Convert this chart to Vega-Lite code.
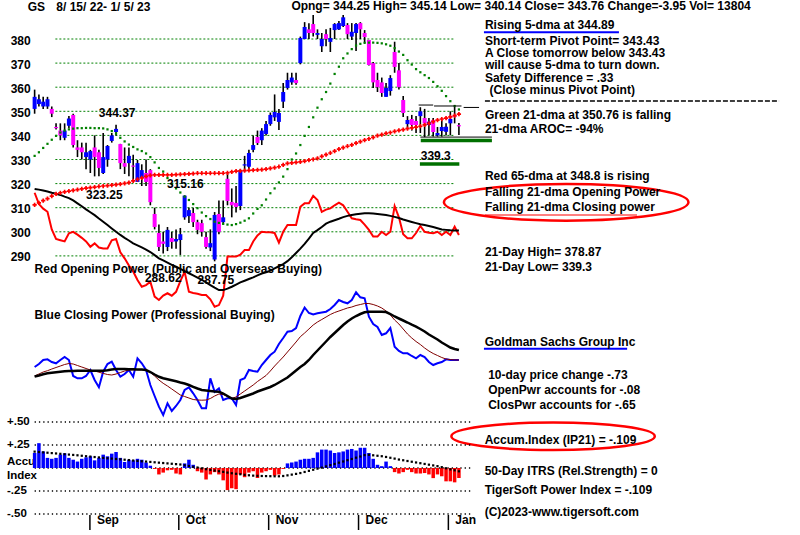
{
"$schema":"https://vega.github.io/schema/vega-lite/v6.json",
"width":800,"height":535,"padding":0,"autosize":{"type":"none"},
"background":"#ffffff",
"config":{"view":{"stroke":null},"text":{"font":"Liberation Sans","fontWeight":"bold","fontSize":12,"color":"#000000"}},
"datasets":{
"days":[
{"d":0,"o":351,"h":359,"l":349,"c":356,"ma21":331.5,"ma65":311.2,"op":316.2,"opma":317.8,"cp":13,"cpma":4,"cpma2":3.5,"ai":0.163,"aima":0.178},
{"d":1,"o":353,"h":357,"l":352,"c":355,"ma21":333,"ma65":312,"op":311.5,"opma":317.5,"cp":16,"cpma":6,"cpma2":4.5,"ai":0.27,"aima":0.174},
{"d":2,"o":352,"h":356,"l":351,"c":354,"ma21":334.8,"ma65":312.9,"op":309.6,"opma":317.1,"cp":20,"cpma":8,"cpma2":5.8,"ai":0.18,"aima":0.17},
{"d":3,"o":352,"h":356,"l":351,"c":355,"ma21":336.5,"ma65":313.8,"op":308.3,"opma":316.7,"cp":20.7,"cpma":9.3,"cpma2":6.7,"ai":0.11,"aima":0.166},
{"d":4,"o":351,"h":352,"l":347.6,"c":349,"ma21":338.2,"ma65":314.8,"op":301,"opma":316.2,"cp":18,"cpma":11,"cpma2":7.3,"ai":0.1,"aima":0.162},
{"d":5,"o":343.5,"h":345,"l":342.5,"c":343,"ma21":339.8,"ma65":315.7,"op":297,"opma":315.8,"cp":16.7,"cpma":12.5,"cpma2":7.8,"ai":0.11,"aima":0.158},
{"d":6,"o":342,"h":345,"l":338,"c":340,"ma21":341.2,"ma65":316.2,"op":296.5,"opma":315.3,"cp":20,"cpma":14,"cpma2":8.3,"ai":0.145,"aima":0.154},
{"d":7,"o":339,"h":345,"l":338,"c":342,"ma21":342,"ma65":316.6,"op":296,"opma":314.6,"cp":23,"cpma":15.5,"cpma2":8.7,"ai":0.16,"aima":0.15},
{"d":8,"o":344,"h":348,"l":343,"c":347,"ma21":342.5,"ma65":316.9,"op":299.4,"opma":314,"cp":20,"cpma":16.5,"cpma2":9,"ai":0.11,"aima":0.146},
{"d":9,"o":348.5,"h":349,"l":335,"c":336,"ma21":342.8,"ma65":317.2,"op":300,"opma":313,"cp":4,"cpma":16,"cpma2":9.1,"ai":0.09,"aima":0.142},
{"d":10,"o":335,"h":338,"l":331,"c":334,"ma21":343,"ma65":317.5,"op":298.8,"opma":311.8,"cp":1.7,"cpma":14.5,"cpma2":9.2,"ai":0.07,"aima":0.138},
{"d":11,"o":335,"h":337,"l":330,"c":333,"ma21":343,"ma65":317.8,"op":297.5,"opma":310.6,"cp":1.7,"cpma":13,"cpma2":9.2,"ai":0.1,"aima":0.133},
{"d":12,"o":331,"h":337,"l":326,"c":333,"ma21":343.1,"ma65":318.1,"op":296,"opma":309.3,"cp":4,"cpma":11.5,"cpma2":9.2,"ai":0.116,"aima":0.128},
{"d":13,"o":330,"h":334,"l":324.4,"c":333.5,"ma21":343.1,"ma65":318.3,"op":293.8,"opma":308.1,"cp":10,"cpma":10,"cpma2":9.3,"ai":0.127,"aima":0.124},
{"d":14,"o":335,"h":340,"l":323,"c":331,"ma21":343,"ma65":318.5,"op":295.2,"opma":306.9,"cp":0,"cpma":9,"cpma2":9.3,"ai":0.083,"aima":0.119},
{"d":15,"o":333,"h":334,"l":323,"c":326.5,"ma21":343,"ma65":318.8,"op":293.5,"opma":305.5,"cp":-7.3,"cpma":7.8,"cpma2":9.3,"ai":0.11,"aima":0.115},
{"d":16,"o":324.4,"h":341,"l":324,"c":331,"ma21":342.9,"ma65":319,"op":293.1,"opma":304.2,"cp":8.3,"cpma":6.6,"cpma2":9.3,"ai":0.145,"aima":0.11},
{"d":17,"o":330,"h":336,"l":327,"c":335.6,"ma21":342.5,"ma65":319.2,"op":293.1,"opma":302.8,"cp":16,"cpma":5.5,"cpma2":9.8,"ai":0.127,"aima":0.106},
{"d":18,"o":337.7,"h":341,"l":337,"c":340,"ma21":341.8,"ma65":319.4,"op":296.5,"opma":301.4,"cp":18.3,"cpma":5,"cpma2":10.5,"ai":0.156,"aima":0.102},
{"d":19,"o":341.4,"h":344.37,"l":340,"c":342.7,"ma21":340.8,"ma65":319.6,"op":297,"opma":300,"cp":10,"cpma":6,"cpma2":11,"ai":0.174,"aima":0.098},
{"d":20,"o":336.4,"h":336.5,"l":326,"c":328.5,"ma21":339,"ma65":319.8,"op":291.5,"opma":298.7,"cp":3.3,"cpma":7.5,"cpma2":11,"ai":0.11,"aima":0.094},
{"d":21,"o":328.5,"h":335,"l":324,"c":327,"ma21":337.5,"ma65":320.1,"op":289,"opma":297.5,"cp":6,"cpma":9,"cpma2":11,"ai":0.065,"aima":0.09},
{"d":22,"o":328.5,"h":335,"l":323,"c":331.5,"ma21":336.2,"ma65":320.4,"op":286,"opma":296.4,"cp":10,"cpma":10,"cpma2":10.8,"ai":0.09,"aima":0.086},
{"d":23,"o":327.5,"h":332,"l":321,"c":327,"ma21":335.2,"ma65":321.1,"op":283.5,"opma":295.2,"cp":3.3,"cpma":10.2,"cpma2":10.7,"ai":0.083,"aima":0.081},
{"d":24,"o":320.7,"h":329.8,"l":320.7,"c":328.5,"ma21":334.2,"ma65":321.8,"op":280,"opma":294.4,"cp":21.7,"cpma":10.3,"cpma2":10.6,"ai":0.1,"aima":0.077},
{"d":25,"o":322.3,"h":328,"l":319,"c":325.6,"ma21":333.5,"ma65":322.4,"op":277.2,"opma":293.5,"cp":16.7,"cpma":10.2,"cpma2":10.4,"ai":0.09,"aima":0.073},
{"d":26,"o":324.4,"h":330,"l":319,"c":320.7,"ma21":332.5,"ma65":323,"op":277.9,"opma":292.6,"cp":10,"cpma":10,"cpma2":10,"ai":0.06,"aima":0.07},
{"d":27,"o":325.6,"h":326,"l":311,"c":312.3,"ma21":331,"ma65":323.4,"op":279.3,"opma":291.6,"cp":-5,"cpma":7.5,"cpma2":8,"ai":0.025,"aima":0.066},
{"d":28,"o":307.4,"h":310,"l":301,"c":302,"ma21":328.8,"ma65":323.6,"op":273.1,"opma":290.3,"cp":-16,"cpma":4,"cpma2":5.5,"ai":-0.01,"aima":0.062},
{"d":29,"o":299.5,"h":303,"l":292,"c":293.7,"ma21":326.5,"ma65":323.6,"op":271.7,"opma":289,"cp":-26.7,"cpma":0,"cpma2":3.2,"ai":-0.07,"aima":0.058},
{"d":30,"o":296,"h":300,"l":291,"c":295,"ma21":325,"ma65":323.6,"op":273.5,"opma":288.1,"cp":-35,"cpma":-3.3,"cpma2":1.7,"ai":-0.05,"aima":0.054},
{"d":31,"o":293.7,"h":302,"l":292,"c":300.8,"ma21":322.3,"ma65":323.6,"op":274.5,"opma":287.2,"cp":-23.3,"cpma":-6,"cpma2":0.8,"ai":-0.025,"aima":0.05},
{"d":32,"o":297.4,"h":300,"l":293,"c":295.8,"ma21":319.8,"ma65":323.6,"op":273.5,"opma":286.3,"cp":-31,"cpma":-9,"cpma2":-0.2,"ai":-0.02,"aima":0.046},
{"d":33,"o":296,"h":301,"l":293,"c":297,"ma21":318,"ma65":323.7,"op":275.1,"opma":285.5,"cp":-26,"cpma":-12,"cpma2":-1.3,"ai":-0.06,"aima":0.042},
{"d":34,"o":296.6,"h":301.6,"l":290.4,"c":299,"ma21":316.3,"ma65":323.8,"op":279.5,"opma":284.6,"cp":-20,"cpma":-15,"cpma2":-2.5,"ai":-0.07,"aima":0.038},
{"d":35,"o":306,"h":315.16,"l":305,"c":315,"ma21":314.6,"ma65":323.9,"op":283.4,"opma":283.7,"cp":-10,"cpma":-16.5,"cpma2":-3.5,"ai":0.05,"aima":0.03},
{"d":36,"o":306.5,"h":310,"l":303.6,"c":309,"ma21":313.2,"ma65":324,"op":275.1,"opma":282.8,"cp":-7.3,"cpma":-18,"cpma2":-5,"ai":0.09,"aima":0.022},
{"d":37,"o":307.8,"h":310,"l":302,"c":304,"ma21":311.5,"ma65":324.1,"op":274.6,"opma":281.9,"cp":-13.3,"cpma":-19.5,"cpma2":-6.8,"ai":0.035,"aima":0.013},
{"d":38,"o":304,"h":305,"l":299,"c":300.8,"ma21":309.8,"ma65":324.3,"op":274.3,"opma":281,"cp":-20,"cpma":-20,"cpma2":-8.5,"ai":-0.035,"aima":0.005},
{"d":39,"o":303.6,"h":305,"l":298,"c":300,"ma21":308,"ma65":324.3,"op":273.8,"opma":280.1,"cp":-28.3,"cpma":-20.2,"cpma2":-10,"ai":-0.05,"aima":-0.004},
{"d":40,"o":297.8,"h":300,"l":293,"c":293.7,"ma21":306.5,"ma65":324.3,"op":273.8,"opma":279,"cp":-28.3,"cpma":-20,"cpma2":-10.5,"ai":-0.125,"aima":-0.013},
{"d":41,"o":293.5,"h":301,"l":292,"c":295.3,"ma21":305.3,"ma65":324.3,"op":272,"opma":277.9,"cp":1.7,"cpma":-18.5,"cpma2":-11,"ai":-0.07,"aima":-0.021},
{"d":42,"o":288.5,"h":308.2,"l":287.75,"c":307,"ma21":304.2,"ma65":324.3,"op":268.9,"opma":276.8,"cp":-11.7,"cpma":-16,"cpma2":-11.5,"ai":-0.045,"aima":-0.028},
{"d":43,"o":307.4,"h":313,"l":299,"c":300,"ma21":303.7,"ma65":324.3,"op":269.6,"opma":275.8,"cp":-8.3,"cpma":-14,"cpma2":-11.7,"ai":-0.07,"aima":-0.035},
{"d":44,"o":304,"h":313,"l":303,"c":306,"ma21":303.3,"ma65":324.3,"op":273.5,"opma":275.8,"cp":-20,"cpma":-14.5,"cpma2":-13.5,"ai":-0.134,"aima":-0.042},
{"d":45,"o":322,"h":324.5,"l":311,"c":312.8,"ma21":303,"ma65":324.5,"op":289.7,"opma":276.4,"cp":-18.3,"cpma":-16.5,"cpma2":-16,"ai":-0.24,"aima":-0.05},
{"d":46,"o":312.4,"h":318,"l":306,"c":311,"ma21":302.8,"ma65":324.9,"op":289.7,"opma":277.2,"cp":-18.3,"cpma":-18.3,"cpma2":-18.5,"ai":-0.22,"aima":-0.057},
{"d":47,"o":312,"h":319,"l":308,"c":310.3,"ma21":303.2,"ma65":325.2,"op":289.7,"opma":278.1,"cp":-25,"cpma":-17,"cpma2":-19,"ai":-0.23,"aima":-0.063},
{"d":48,"o":310.7,"h":326,"l":309,"c":325.6,"ma21":303.8,"ma65":325.3,"op":290.5,"opma":279,"cp":0,"cpma":-14,"cpma2":-18,"ai":-0.07,"aima":-0.068},
{"d":49,"o":327.5,"h":331.5,"l":325,"c":328,"ma21":304.6,"ma65":325.4,"op":292.4,"opma":279.7,"cp":1.7,"cpma":-11,"cpma2":-16.5,"ai":-0.1,"aima":-0.074},
{"d":50,"o":327,"h":334,"l":326,"c":332.7,"ma21":305.6,"ma65":325.5,"op":292.4,"opma":280.4,"cp":10,"cpma":-8,"cpma2":-15,"ai":-0.05,"aima":-0.079},
{"d":51,"o":334,"h":340,"l":333,"c":336,"ma21":307.6,"ma65":325.6,"op":296,"opma":281.1,"cp":9,"cpma":-5,"cpma2":-13.5,"ai":-0.035,"aima":-0.083},
{"d":52,"o":339.3,"h":342,"l":336,"c":336.8,"ma21":309.5,"ma65":325.7,"op":298.5,"opma":281.9,"cp":8.3,"cpma":-1.5,"cpma2":-11.5,"ai":-0.11,"aima":-0.085},
{"d":53,"o":338,"h":343,"l":336,"c":342,"ma21":311,"ma65":325.8,"op":300,"opma":282.7,"cp":15,"cpma":1.5,"cpma2":-10,"ai":-0.05,"aima":-0.087},
{"d":54,"o":340.6,"h":346,"l":340,"c":344.7,"ma21":313.4,"ma65":326,"op":299.8,"opma":283.2,"cp":20,"cpma":4.5,"cpma2":-8.5,"ai":-0.035,"aima":-0.088},
{"d":55,"o":344.7,"h":349.5,"l":344,"c":348.5,"ma21":316,"ma65":326.3,"op":299.8,"opma":283.9,"cp":25,"cpma":9,"cpma2":-7,"ai":-0.02,"aima":-0.089},
{"d":56,"o":347.5,"h":357,"l":346,"c":349.7,"ma21":318,"ma65":326.6,"op":299.5,"opma":284.8,"cp":28.3,"cpma":14,"cpma2":-5,"ai":-0.083,"aima":-0.09},
{"d":57,"o":345.6,"h":351,"l":342.2,"c":349.3,"ma21":320.5,"ma65":327,"op":295.5,"opma":285.7,"cp":36,"cpma":18.5,"cpma2":-2.5,"ai":-0.07,"aima":-0.09},
{"d":58,"o":354,"h":361.7,"l":351.4,"c":358,"ma21":322.9,"ma65":327.8,"op":300,"opma":286.6,"cp":42,"cpma":23,"cpma2":0,"ai":-0.01,"aima":-0.087},
{"d":59,"o":359.7,"h":366,"l":359,"c":363,"ma21":326,"ma65":328.4,"op":302.8,"opma":287.8,"cp":48.3,"cpma":28,"cpma2":2.5,"ai":0.05,"aima":-0.08},
{"d":60,"o":362,"h":366,"l":361,"c":364,"ma21":330,"ma65":328.6,"op":302.8,"opma":289.4,"cp":49,"cpma":33,"cpma2":6,"ai":0.06,"aima":-0.072},
{"d":61,"o":363,"h":366,"l":361,"c":361.7,"ma21":332.5,"ma65":328.8,"op":302.8,"opma":291.2,"cp":52,"cpma":38,"cpma2":9.5,"ai":0.07,"aima":-0.064},
{"d":62,"o":370,"h":381,"l":369.5,"c":380.4,"ma21":336,"ma65":329,"op":310.4,"opma":293,"cp":64,"cpma":43.3,"cpma2":13,"ai":0.09,"aima":-0.055},
{"d":63,"o":380,"h":387,"l":380,"c":385,"ma21":339.8,"ma65":329.3,"op":311.8,"opma":295,"cp":72.5,"cpma":47,"cpma2":16,"ai":0.1,"aima":-0.043},
{"d":64,"o":384,"h":386.5,"l":380,"c":382.5,"ma21":343.5,"ma65":329.7,"op":311.8,"opma":297.2,"cp":67,"cpma":51,"cpma2":20,"ai":0.1,"aima":-0.031},
{"d":65,"o":386.2,"h":390,"l":381,"c":382.5,"ma21":347.5,"ma65":330.1,"op":314.9,"opma":299.5,"cp":65.5,"cpma":55,"cpma2":25,"ai":0.11,"aima":-0.019},
{"d":66,"o":381.7,"h":384,"l":380,"c":382.5,"ma21":351.5,"ma65":330.5,"op":313.2,"opma":300.7,"cp":66.7,"cpma":58,"cpma2":29.5,"ai":0.17,"aima":-0.007},
{"d":67,"o":377,"h":382.5,"l":374.6,"c":380,"ma21":355,"ma65":331.3,"op":308.3,"opma":302,"cp":67.5,"cpma":60.5,"cpma2":34,"ai":0.2,"aima":0.004},
{"d":68,"o":382,"h":384,"l":377,"c":380,"ma21":358,"ma65":332,"op":309.2,"opma":303.4,"cp":68.3,"cpma":63,"cpma2":38.5,"ai":0.2,"aima":0.017},
{"d":69,"o":378.8,"h":384.6,"l":374.6,"c":380.4,"ma21":361.5,"ma65":332.7,"op":309.7,"opma":304.2,"cp":71,"cpma":65.5,"cpma2":43,"ai":0.19,"aima":0.031},
{"d":70,"o":383.7,"h":386.6,"l":380,"c":386.2,"ma21":365.5,"ma65":333.5,"op":311,"opma":304.8,"cp":75,"cpma":67.5,"cpma2":47,"ai":0.163,"aima":0.044},
{"d":71,"o":384,"h":387.5,"l":383.7,"c":386.6,"ma21":368.5,"ma65":334.3,"op":312.1,"opma":305.4,"cp":80,"cpma":69,"cpma2":51,"ai":0.17,"aima":0.058},
{"d":72,"o":385.4,"h":390,"l":385,"c":389,"ma21":372,"ma65":334.9,"op":311,"opma":306.1,"cp":78,"cpma":70.5,"cpma2":55,"ai":0.18,"aima":0.071},
{"d":73,"o":385.8,"h":386.6,"l":380,"c":382,"ma21":374,"ma65":335.5,"op":308.3,"opma":306.6,"cp":76.7,"cpma":72,"cpma2":58.5,"ai":0.2,"aima":0.085},
{"d":74,"o":381,"h":386.6,"l":379.6,"c":383,"ma21":375.8,"ma65":336.1,"op":305.6,"opma":307,"cp":80,"cpma":73,"cpma2":61.5,"ai":0.207,"aima":0.098},
{"d":75,"o":382.5,"h":386.6,"l":375,"c":386.2,"ma21":377.3,"ma65":336.8,"op":305.2,"opma":307.3,"cp":87.7,"cpma":74.5,"cpma2":64,"ai":0.19,"aima":0.112},
{"d":76,"o":386.6,"h":387,"l":380,"c":384,"ma21":378,"ma65":337.4,"op":304.9,"opma":307.5,"cp":82.7,"cpma":75.5,"cpma2":66,"ai":0.22,"aima":0.125},
{"d":77,"o":382.5,"h":383.7,"l":378.3,"c":380.8,"ma21":378.4,"ma65":338,"op":303,"opma":307.7,"cp":81.7,"cpma":76.5,"cpma2":67.7,"ai":0.22,"aima":0.14},
{"d":78,"o":379.6,"h":379.6,"l":369,"c":369.2,"ma21":378.5,"ma65":338.6,"op":300.8,"opma":307.7,"cp":63.3,"cpma":76.5,"cpma2":68.3,"ai":0.163,"aima":0.143},
{"d":79,"o":370,"h":370.5,"l":359.7,"c":362,"ma21":378.5,"ma65":339.2,"op":298,"opma":307.6,"cp":56,"cpma":75.5,"cpma2":68.3,"ai":0.1,"aima":0.138},
{"d":80,"o":363,"h":366,"l":358,"c":360,"ma21":378.4,"ma65":339.9,"op":298,"opma":307.4,"cp":53,"cpma":74,"cpma2":68.3,"ai":0.035,"aima":0.133},
{"d":81,"o":362,"h":364,"l":356,"c":357.6,"ma21":378.2,"ma65":340.3,"op":300,"opma":307.2,"cp":45,"cpma":72,"cpma2":68.3,"ai":0.02,"aima":0.128},
{"d":82,"o":356,"h":361.7,"l":356,"c":359.7,"ma21":377.8,"ma65":340.8,"op":298.7,"opma":307,"cp":46.7,"cpma":69,"cpma2":68,"ai":0.07,"aima":0.12},
{"d":83,"o":358.4,"h":365,"l":356.5,"c":363.8,"ma21":377.2,"ma65":341.2,"op":300,"opma":306.6,"cp":52,"cpma":65,"cpma2":66,"ai":0.02,"aima":0.111},
{"d":84,"o":374.6,"h":378.87,"l":366,"c":368.4,"ma21":376.2,"ma65":341.7,"op":310.7,"opma":306.2,"cp":33.3,"cpma":60,"cpma2":63.5,"ai":-0.045,"aima":0.102},
{"d":85,"o":367,"h":370,"l":359,"c":360,"ma21":374.8,"ma65":342.1,"op":306,"opma":305.7,"cp":29,"cpma":56,"cpma2":61.5,"ai":-0.06,"aima":0.092},
{"d":86,"o":354.7,"h":356.3,"l":347.6,"c":349.3,"ma21":373.4,"ma65":342.4,"op":299,"opma":305.1,"cp":26.7,"cpma":51,"cpma2":59.5,"ai":-0.045,"aima":0.084},
{"d":87,"o":344.7,"h":348,"l":343,"c":346.4,"ma21":371.2,"ma65":342.8,"op":297.3,"opma":304.6,"cp":26.7,"cpma":46,"cpma2":57.5,"ai":-0.02,"aima":0.076},
{"d":88,"o":346.8,"h":348.5,"l":342,"c":344.3,"ma21":369.4,"ma65":343.1,"op":297.3,"opma":304.1,"cp":24,"cpma":42,"cpma2":55.3,"ai":-0.045,"aima":0.068},
{"d":89,"o":346,"h":348,"l":341,"c":344.3,"ma21":367.5,"ma65":343.4,"op":299.5,"opma":303.6,"cp":21.7,"cpma":38.5,"cpma2":53.3,"ai":-0.06,"aima":0.06},
{"d":90,"o":348,"h":351.7,"l":341,"c":350,"ma21":366.2,"ma65":343.8,"op":302.4,"opma":303.1,"cp":25,"cpma":35.5,"cpma2":51,"ai":-0.06,"aima":0.052},
{"d":91,"o":347.2,"h":351,"l":339.3,"c":345,"ma21":365,"ma65":344.4,"op":300,"opma":302.8,"cp":23,"cpma":32,"cpma2":48.5,"ai":-0.055,"aima":0.044},
{"d":92,"o":344.3,"h":347.2,"l":340,"c":345.7,"ma21":363.8,"ma65":345,"op":299.6,"opma":302.4,"cp":18,"cpma":29,"cpma2":45.5,"ai":-0.07,"aima":0.036},
{"d":93,"o":346.4,"h":347.2,"l":339.5,"c":341.4,"ma21":362.2,"ma65":345.7,"op":299.4,"opma":302,"cp":15,"cpma":26.5,"cpma2":43,"ai":-0.11,"aima":0.028},
{"d":94,"o":340,"h":343.5,"l":339.5,"c":341,"ma21":360.4,"ma65":346.3,"op":300,"opma":301.5,"cp":16.7,"cpma":24.5,"cpma2":40.5,"ai":-0.07,"aima":0.02},
{"d":95,"o":341.8,"h":346.4,"l":339.5,"c":343.5,"ma21":358.5,"ma65":346.8,"op":298.7,"opma":301,"cp":18,"cpma":22.5,"cpma2":37.5,"ai":-0.09,"aima":0.009},
{"d":96,"o":341.5,"h":345,"l":340,"c":343.6,"ma21":356.3,"ma65":347.2,"op":300,"opma":300.8,"cp":20.7,"cpma":21,"cpma2":35,"ai":-0.145,"aima":-0.003},
{"d":97,"o":345,"h":350,"l":340,"c":346.8,"ma21":354.2,"ma65":347.7,"op":298.7,"opma":300.6,"cp":20,"cpma":20.4,"cpma2":32.5,"ai":-0.145,"aima":-0.015},
{"d":98,"o":348,"h":351.8,"l":345,"c":347.71,"ma21":352.2,"ma65":348.2,"op":302.1,"opma":300.5,"cp":20,"cpma":20.1,"cpma2":31,"ai":-0.156,"aima":-0.025},
{"d":99,"o":344.25,"h":345.14,"l":340.14,"c":343.76,"ma21":350.76,"ma65":348.8,"op":298.7,"opma":300.5,"cp":20,"cpma":20,"cpma2":30,"ai":-0.109,"aima":-0.036}
],
"notes":[
{"d":14.977,"v":349.5,"t":"344.37"},
{"d":11.982,"v":315.39,"t":"323.25"},
{"d":30.876,"v":319.92,"t":"315.16"},
{"d":25.737,"v":280.83,"t":"288.62"},
{"d":38.018,"v":280.0,"t":"287.75"},
{"d":90.092,"v":331.58,"t":"339.3"},
{"d":0,"v":284.77,"t":"Red Opening Power (Public and Overseas Buying)"},
{"d":0,"v":265.68,"t":"Blue Closing Power (Professional Buying)"},
{"d":105.07,"v":385.81,"t":"Rising 5-dma at 344.89"},
{"d":105.07,"v":379.17,"t":"Short-term Pivot Point= 343.43"},
{"d":105.07,"v":374.19,"t":"A Close tomorrow below  343.43"},
{"d":105.07,"v":369.09,"t":"will cause 5-dma to turn down."},
{"d":105.07,"v":363.94,"t":"Safety Difference = .33"},
{"d":106.15,"v":358.84,"t":"(Close minus Pivot Point)"},
{"d":105.07,"v":348.55,"t":"Green 21-dma at  350.76 is falling"},
{"d":105.07,"v":342.66,"t":"21-dma AROC= -94%"},
{"d":105.07,"v":323.24,"t":"Red 65-dma at  348.8 is rising"},
{"d":105.07,"v":316.51,"t":"Falling 21-dma Opening Power"},
{"d":105.07,"v":310.29,"t":"Falling 21-dma Closing power"},
{"d":105.07,"v":291.62,"t":"21-Day High= 378.87"},
{"d":105.07,"v":285.6,"t":"21-Day Low= 339.3"},
{"d":105.0,"v":254.48,"t":"Goldman Sachs Group Inc"},
{"d":105.83,"v":240.71,"t":"10-day price change -.73"},
{"d":105.83,"v":234.36,"t":"OpenPwr accounts for -.08"},
{"d":105.83,"v":227.93,"t":"ClosPwr accounts for -.65"},
{"d":105.0,"v":213.61,"t":"Accum.Index (IP21) = -.109"},
{"d":105.0,"v":200.54,"t":"50-Day ITRS (Rel.Strength) =  0"},
{"d":105.0,"v":192.86,"t":"TigerSoft Power Index = -.109"},
{"d":105.0,"v":183.73,"t":"(C)2023-www.tigersoft.com"}
]
},
"resolve":{"scale":{"y":"independent"}},
"layer":[
{"layer":[
{"data":{"values":[{"v":290},{"v":300},{"v":310},{"v":320},{"v":330},{"v":340},{"v":350},{"v":360},{"v":370},{"v":380}]},
 "mark":{"type":"rule","color":"#008000","strokeWidth":1,"strokeDash":[2,2]},
 "encoding":{"y":{"field":"v","type":"quantitative","scale":{"domain":[174.191,396.183],"nice":false,"zero":false},"axis":null},
  "x":{"datum":4.84,"type":"quantitative","scale":{"domain":[-6.912,177.419],"nice":false,"zero":false},"axis":null},"x2":{"datum":97.9}}},
{"data":{"values":[{"v":290},{"v":300},{"v":310},{"v":320},{"v":330},{"v":340},{"v":350},{"v":360},{"v":370},{"v":380}]},
 "mark":{"type":"text","align":"right","baseline":"middle","dy":1.5},
 "encoding":{"y":{"field":"v","type":"quantitative"},"x":{"datum":-0.92,"type":"quantitative"},"text":{"field":"v","type":"quantitative"}}},
{"data":{"name":"days"},"mark":{"type":"line","color":"#ff0000","strokeWidth":2},
 "encoding":{"x":{"field":"d","type":"quantitative"},"y":{"field":"op","type":"quantitative"}}},
{"data":{"name":"days"},"mark":{"type":"line","color":"#000000","strokeWidth":2},
 "encoding":{"x":{"field":"d","type":"quantitative"},"y":{"field":"opma","type":"quantitative"}}},
{"data":{"name":"days"},"mark":{"type":"rule","color":"#000000","strokeWidth":1.6},
 "encoding":{"x":{"field":"d","type":"quantitative"},"y":{"field":"l","type":"quantitative"},"y2":{"field":"h"}}},
{"data":{"name":"days"},"mark":{"type":"bar","width":4},
 "encoding":{"x":{"field":"d","type":"quantitative"},"y":{"field":"o","type":"quantitative"},"y2":{"field":"c"},
  "color":{"condition":{"test":"datum.c >= datum.o","value":"#0000ff"},"value":"#ff00ff"}}},
{"data":{"name":"days"},"mark":{"type":"point","shape":"cross","filled":true,"size":18,"color":"#ff0000","opacity":1},
 "encoding":{"x":{"field":"d","type":"quantitative"},"y":{"field":"ma65","type":"quantitative"}}},
{"data":{"name":"days"},"mark":{"type":"point","shape":"square","filled":true,"size":5,"color":"#008000","opacity":1},
 "encoding":{"x":{"field":"d","type":"quantitative"},"y":{"field":"ma21","type":"quantitative"}}},
{"data":{"values":[{"d":90.1,"d2":106.7,"v":337.9},{"d":89.9,"d2":99.1,"v":328.1}]},
 "mark":{"type":"rule","color":"#007000","strokeWidth":3.5},
 "encoding":{"x":{"field":"d","type":"quantitative"},"x2":{"field":"d2"},"y":{"field":"v","type":"quantitative"}}},
{"data":{"values":[{"d":89.6,"d2":93,"v":352.6},{"d":93.2,"d2":99.6,"v":352.2},{"d":100.1,"d2":103.7,"v":351.6},{"d":90,"d2":106.7,"v":339.3}]},
 "mark":{"type":"rule","color":"#000000","strokeWidth":1},
 "encoding":{"x":{"field":"d","type":"quantitative"},"x2":{"field":"d2"},"y":{"field":"v","type":"quantitative"}}},
{"data":{"values":[{"d":104.84,"d2":136.34,"v":382.78},{"d":104.84,"d2":138.25,"v":251.49}]},
 "mark":{"type":"rule","color":"#0000ff","strokeWidth":2},
 "encoding":{"x":{"field":"d","type":"quantitative"},"x2":{"field":"d2"},"y":{"field":"v","type":"quantitative"}}},
{"data":{"values":[{"d":105.07,"d2":140.55,"v":306.97}]},
 "mark":{"type":"rule","color":"#ff0000","strokeWidth":1},
 "encoding":{"x":{"field":"d","type":"quantitative"},"x2":{"field":"d2"},"y":{"field":"v","type":"quantitative"}}},
{"data":{"values":[{"d":105.07,"d2":173.7,"v":354.27}]},
 "mark":{"type":"rule","color":"#000000","strokeWidth":1.5,"strokeDash":[5,2]},
 "encoding":{"x":{"field":"d","type":"quantitative"},"x2":{"field":"d2"},"y":{"field":"v","type":"quantitative"}}},
{"data":{"values":[{"d":124.03,"v":312.24}]},
 "mark":{"type":"point","shape":"M1,0C1,0.0828,0.5523,0.15,0,0.15C-0.5523,0.15,-1,0.0828,-1,0C-1,-0.0828,-0.5523,-0.15,0,-0.15C0.5523,-0.15,1,-0.0828,1,0Z","size":59829,"filled":false,"stroke":"#ff0000","strokeWidth":2.5,"opacity":1},
 "encoding":{"x":{"field":"d","type":"quantitative"},"y":{"field":"v","type":"quantitative"}}},
{"data":{"values":[{"d":120.97,"v":215.15}]},
 "mark":{"type":"point","shape":"M1,0C1,0.0746,0.5523,0.135,0,0.135C-0.5523,0.135,-1,0.0746,-1,0C-1,-0.0746,-0.5523,-0.135,0,-0.135C0.5523,-0.135,1,-0.0746,1,0Z","size":41372,"filled":false,"stroke":"#ff0000","strokeWidth":2.5,"opacity":1},
 "encoding":{"x":{"field":"d","type":"quantitative"},"y":{"field":"v","type":"quantitative"}}},
{"data":{"name":"notes"},"mark":{"type":"text","align":"left","baseline":"middle"},
 "encoding":{"x":{"field":"d","type":"quantitative"},"y":{"field":"v","type":"quantitative"},"text":{"field":"t"}}},
{"data":{"values":[{"d":-1.613,"v":393.4,"t":"GS"},{"d":5.069,"v":393.4,"t":"8/ 15/ 22- 1/ 5/ 23"},{"d":59.908,"v":393.49,"t":"Opng= 344.25 High= 345.14 Low= 340.14 Close= 343.76 Change=-3.95 Vol= 13804"}]},
 "mark":{"type":"text","align":"left","baseline":"middle","fontSize":12},
 "encoding":{"x":{"field":"d","type":"quantitative"},"y":{"field":"v","type":"quantitative"},"text":{"field":"t"}}}
]},
{"layer":[
{"data":{"name":"days"},"mark":{"type":"line","color":"#0000ff","strokeWidth":2},
 "encoding":{"x":{"field":"d","type":"quantitative"},"y":{"field":"cp","type":"quantitative","scale":{"domain":[-155,380],"nice":false,"zero":false},"axis":null}}},
{"data":{"name":"days"},"mark":{"type":"line","color":"#800000","strokeWidth":1},
 "encoding":{"x":{"field":"d","type":"quantitative"},"y":{"field":"cpma","type":"quantitative"}}},
{"data":{"name":"days"},"mark":{"type":"line","color":"#000000","strokeWidth":2.5},
 "encoding":{"x":{"field":"d","type":"quantitative"},"y":{"field":"cpma2","type":"quantitative"}}}
]},
{"layer":[
{"data":{"values":[{"v":0.5},{"v":0.25},{"v":0},{"v":-0.25},{"v":-0.5}]},
 "mark":{"type":"rule","color":"#000000","strokeWidth":1.3,"strokeDash":[1.3,3]},
 "encoding":{"y":{"field":"v","type":"quantitative","scale":{"domain":[-0.7283,5.087],"nice":false,"zero":false},"axis":null},
  "x":{"datum":0,"type":"quantitative"},"x2":{"datum":101.8}}},
{"data":{"values":[{"v":0.5,"t":"+.50"},{"v":0.25,"t":"+.25"},{"v":0.062,"t":"Accu"},{"v":-0.085,"t":"Index"},{"v":-0.25,"t":"-.25"},{"v":-0.5,"t":"-.50"}]},
 "mark":{"type":"text","align":"left","baseline":"middle","fontSize":11.5},
 "encoding":{"y":{"field":"v","type":"quantitative"},"x":{"datum":-6.45,"type":"quantitative"},"text":{"field":"t"}}},
{"data":{"name":"days"},"mark":{"type":"bar","width":3.5},
 "encoding":{"x":{"field":"d","type":"quantitative"},"y":{"field":"ai","type":"quantitative"},"y2":{"datum":0},
  "color":{"condition":{"test":"datum.ai >= 0","value":"#0000ff"},"value":"#ff0000"}}},
{"data":{"name":"days"},"mark":{"type":"point","shape":"square","filled":true,"size":5,"color":"#000000","opacity":1},
 "encoding":{"x":{"field":"d","type":"quantitative"},"y":{"field":"aima","type":"quantitative"}}},
{"data":{"values":[{"d":12.9,"m":"Sep"},{"d":33.64,"m":"Oct"},{"d":54.61,"m":"Nov"},{"d":75.58,"m":"Dec"},{"d":96.54,"m":"Jan"}]},
 "mark":{"type":"rule","color":"#000000","strokeWidth":1.5},
 "encoding":{"x":{"field":"d","type":"quantitative"},"y":{"datum":-0.511,"type":"quantitative"},"y2":{"datum":-0.674}}},
{"data":{"values":[{"d":12.9,"m":"Sep"},{"d":33.64,"m":"Oct"},{"d":54.61,"m":"Nov"},{"d":75.58,"m":"Dec"},{"d":96.54,"m":"Jan"}]},
 "mark":{"type":"text","align":"left","baseline":"middle","dx":7},
 "encoding":{"x":{"field":"d","type":"quantitative"},"y":{"datum":-0.565,"type":"quantitative"},"text":{"field":"m"}}}
]}
]
}
